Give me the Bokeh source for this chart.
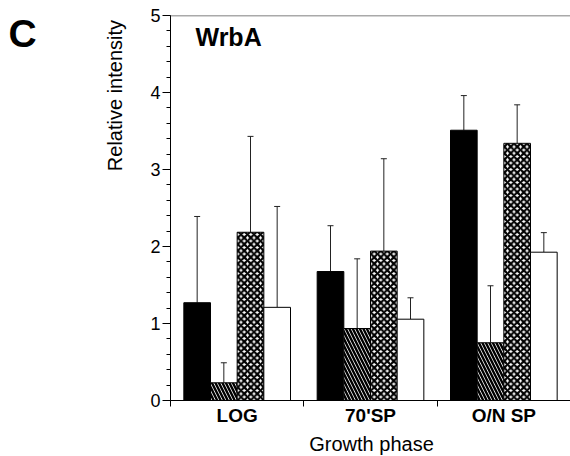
import math
from bokeh.plotting import figure
from bokeh.layouts import row, column
from bokeh.models import (FixedTicker, Whisker, TeeHead, ColumnDataSource, Label,
                          Span, Range1d)
from bokeh.core.properties import value
from bokeh.embed import file_html
from bokeh.resources import INLINE

# ---- data ----
phases = ["LOG", "70'SP", "O/N SP"]
offsets = [-0.3, -0.1, 0.1, 0.3]

black_vals = [1.27, 1.675, 3.51]
black_err = [2.39, 2.27, 3.96]
diag_vals = [0.23, 0.935, 0.75]
diag_err = [0.49, 1.84, 1.49]
cross_vals = [2.185, 1.94, 3.34]
cross_err = [3.43, 3.14, 3.84]
white_vals = [1.21, 1.056, 1.926]
white_err = [2.52, 1.334, 2.18]

y_ticks = [0, 1, 2, 3, 4, 5]
y_minor = [i / 5 for i in range(26)]

FONT = "Liberation Sans"
W = 570
TOP_H = 428
BOT_H = 28
LEFT_W = 130

# ---- left strip with panel letter and y title ----
left = figure(width=LEFT_W, height=TOP_H, output_backend="svg",
              toolbar_location=None, title=None,
              x_range=Range1d(0, LEFT_W), y_range=Range1d(TOP_H, 0),
              x_axis_type=None, y_axis_type=None, min_border=0)
left.outline_line_color = None
left.grid.visible = False
left.text(x=[8], y=[20], text=["C"], text_font=value(FONT),
          text_font_size="39px", text_font_style="bold",
          text_baseline="middle", text_align="left", text_color="black")
left.text(x=[114], y=[89], text=["Relative intensity"], angle=math.pi / 2,
          text_font=value(FONT), text_font_size="20px",
          text_baseline="middle", text_align="center", text_color="black")

# ---- main chart ----
p = figure(width=W - LEFT_W, height=TOP_H, output_backend="svg",
           toolbar_location=None, title=None,
           x_range=Range1d(0, 3), y_range=Range1d(0, 5),
           min_border_left=40, min_border_right=0, min_border_top=15,
           min_border_bottom=28)
p.outline_line_color = None
p.grid.visible = False
p.background_fill_color = "white"
p.border_fill_color = "white"

centers = [i + 0.5 for i in range(len(phases))]

styles = [
    dict(fill_color="black"),
    dict(fill_color="white", hatch_pattern="\\", hatch_color="black",
         hatch_scale=7, hatch_weight=2.4),
    dict(fill_color="white", hatch_pattern="x", hatch_color="black",
         hatch_scale=6.5, hatch_weight=2.2),
    dict(fill_color="white"),
]
series = [(black_vals, black_err), (diag_vals, diag_err),
          (cross_vals, cross_err), (white_vals, white_err)]

for (vals, errs), off, st in zip(series, offsets, styles):
    xs = [c + off for c in centers]
    src = ColumnDataSource(dict(x=xs, top=vals, err=errs))
    p.vbar(x="x", top="top", bottom=0, width=0.2, source=src,
           line_color="black", line_width=1, **st)
    w = Whisker(base="x", lower="top", upper="err", source=src,
                line_color="#222222", line_width=1,
                upper_head=TeeHead(size=6, line_color="#222222", line_width=1),
                lower_head=None)
    p.add_layout(w)

p.add_layout(Span(location=5, dimension="width", line_color="#555555",
                  line_width=1.3))

# y axis
ya = p.yaxis[0]
ya.ticker = FixedTicker(ticks=y_ticks, minor_ticks=y_minor)
ya.major_tick_out = 8
ya.major_tick_in = 0
ya.minor_tick_out = 4
ya.minor_tick_in = 0
ya.major_label_standoff = 2
ya.major_label_text_font = FONT
ya.major_label_text_font_size = "18px"
ya.major_label_text_color = "black"
ya.axis_line_color = "black"
ya.major_tick_line_color = "black"
ya.minor_tick_line_color = "black"

# x axis
xa = p.xaxis[0]
xa.ticker = FixedTicker(ticks=centers, minor_ticks=[0, 1, 2, 3])
xa.major_label_overrides = {c: name for c, name in zip(centers, phases)}
xa.major_tick_out = 0
xa.major_tick_in = 0
xa.minor_tick_out = 6
xa.minor_tick_in = 0
xa.major_label_standoff = -2
xa.major_label_text_font = FONT
xa.major_label_text_font_size = "19px"
xa.major_label_text_font_style = "bold"
xa.major_label_text_color = "black"
xa.axis_line_color = "black"
xa.minor_tick_line_color = "black"

p.add_layout(Label(x=0.1875, y=4.715, text="WrbA",
                   text_font=FONT, text_font_size="25px",
                   text_font_style="bold", text_baseline="middle",
                   text_align="left", text_color="black"))

# ---- bottom strip with the x title ----
bottom = figure(width=W, height=BOT_H, output_backend="svg",
                toolbar_location=None, title=None,
                x_range=Range1d(0, W), y_range=Range1d(BOT_H, 0),
                x_axis_type=None, y_axis_type=None, min_border=0)
bottom.outline_line_color = None
bottom.grid.visible = False
bottom.text(x=[371], y=[15.9], text=["Growth phase"], text_font=value(FONT),
            text_font_size="20px", text_baseline="middle",
            text_align="center", text_color="black")

layout = column(row(left, p), bottom)
open("out.html", "w").write(file_html(layout, INLINE))
